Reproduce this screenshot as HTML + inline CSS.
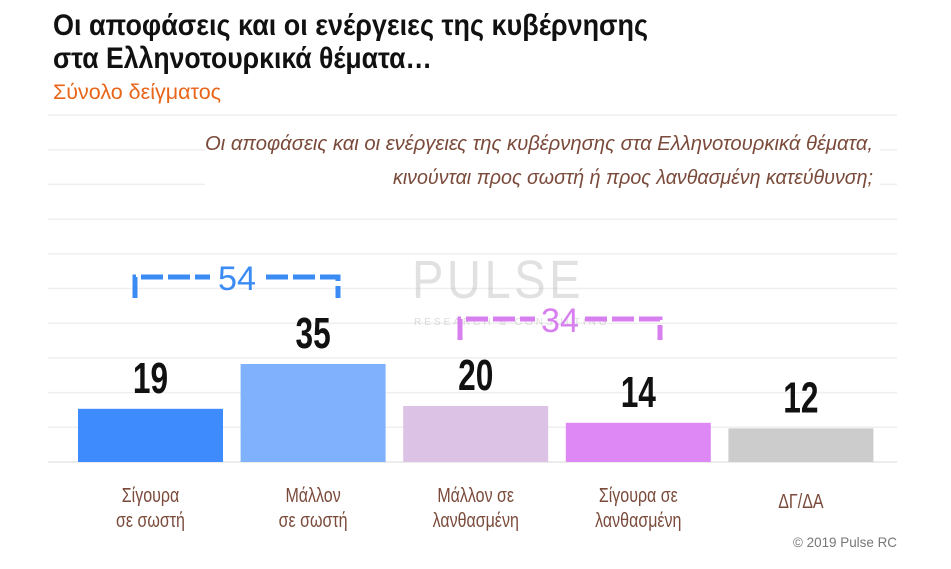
<!DOCTYPE html>
<html><head><meta charset="utf-8"><style>
body{margin:0;background:#fff;width:951px;height:564px;overflow:hidden;font-family:"Liberation Sans",sans-serif;}
svg text{font-family:"Liberation Sans",sans-serif;}
</style></head><body>
<svg width="951" height="564">
<g id="grid"></g>
<text x="53" y="35" font-size="30" font-weight="bold" fill="#111" textLength="595" lengthAdjust="spacingAndGlyphs">Οι αποφάσεις και οι ενέργειες της κυβέρνησης</text>
<text x="53" y="68" font-size="30" font-weight="bold" fill="#111" textLength="379" lengthAdjust="spacingAndGlyphs">στα Ελληνοτουρκικά θέματα…</text>
<text x="53" y="99" font-size="21" fill="#e8651a" textLength="168" lengthAdjust="spacingAndGlyphs">Σύνολο δείγματος</text>
<rect x="205" y="128" width="675" height="60" fill="#fff"/>
<text x="205" y="150" font-size="20" font-style="italic" fill="#7a4a3a" textLength="668" lengthAdjust="spacingAndGlyphs">Οι αποφάσεις και οι ενέργειες της κυβέρνησης στα Ελληνοτουρκικά θέματα,</text>
<text x="393" y="184" font-size="20" font-style="italic" fill="#7a4a3a" textLength="480" lengthAdjust="spacingAndGlyphs">κινούνται προς σωστή ή προς λανθασμένη κατεύθυνση;</text>
<g opacity="0.35">
<text x="412" y="298" font-size="54" fill="#aaa" letter-spacing="4" textLength="172" lengthAdjust="spacingAndGlyphs">PULSE</text>
<text x="414" y="325" font-size="10" fill="#999" letter-spacing="3">RESEARCH &amp; CONSULTING</text>
</g>
<g id="bars"></g>
<g stroke="#3b8bf5" stroke-width="5" fill="none" stroke-dasharray="22,5">
<path d="M135 298 V277 H210"/><path d="M266 277 H338 V298"/>
</g>
<text x="237" y="290" font-size="34" fill="#3b8bf5" text-anchor="middle" textLength="38" lengthAdjust="spacingAndGlyphs">54</text>
<g stroke="#d87ff0" stroke-width="5" fill="none" stroke-dasharray="22,5">
<path d="M460 340 V319 H535"/><path d="M585 319 H660 V340"/>
</g>
<text x="560" y="332" font-size="34" fill="#d87ff0" text-anchor="middle" textLength="38" lengthAdjust="spacingAndGlyphs">34</text>
<text x="793" y="547" font-size="14" fill="#777" textLength="104" lengthAdjust="spacingAndGlyphs">© 2019 Pulse RC</text>
</svg>
<script>
const categories1=["Σίγουρα","Μάλλον","Μάλλον σε","Σίγουρα σε","ΔΓ/ΔΑ"];
const categories2=["σε σωστή","σε σωστή","λανθασμένη","λανθασμένη",""];
const values=[19,35,20,14,12];
const colors=["#3d8bfd","#7fb1fc","#dcc3e6","#dd88f5","#cccccc"];
const base=462, scale=2.8, x0=78, step=162.6, bw=145;
const ns="http://www.w3.org/2000/svg";
const y=v=>base-v*scale;
const grid=document.getElementById('grid');
for(let i=0;i<11;i++){const l=document.createElementNS(ns,'line');


const gy=base-i*34.7;l.setAttribute('x1',48);l.setAttribute('x2',897);l.setAttribute('y1',gy);l.setAttribute('y2',gy);
l.setAttribute('stroke',i==0?'#e6e6e6':'#efefef');l.setAttribute('stroke-width',1.5);grid.appendChild(l);}
const g=document.getElementById('bars');
values.forEach((v,i)=>{const x=x0+i*step;
const r=document.createElementNS(ns,'rect');


r.setAttribute('x',x);r.setAttribute('y',y(v));r.setAttribute('width',bw);r.setAttribute('height',base-y(v));r.setAttribute('fill',colors[i]);g.appendChild(r);
const t=document.createElementNS(ns,'text');


t.setAttribute('transform','translate('+(x+bw/2)+','+(y(v)-16)+') scale(0.72,1)');
t.setAttribute('text-anchor','middle');t.setAttribute('font-size','44');t.setAttribute('font-weight','bold');t.setAttribute('fill','#111');t.textContent=v;g.appendChild(t);
const lines=categories2[i]?[categories1[i],categories2[i]]:[categories1[i]];
lines.forEach((s,j)=>{const c=document.createElementNS(ns,'text');


c.setAttribute('transform','translate('+(x+bw/2)+','+((lines.length==1?508:502)+j*25)+') scale(0.8,1)');
c.setAttribute('text-anchor','middle');c.setAttribute('font-size','20');c.setAttribute('fill','#7a4a3a');c.textContent=s;g.appendChild(c);});
});
</script>
</body></html>
